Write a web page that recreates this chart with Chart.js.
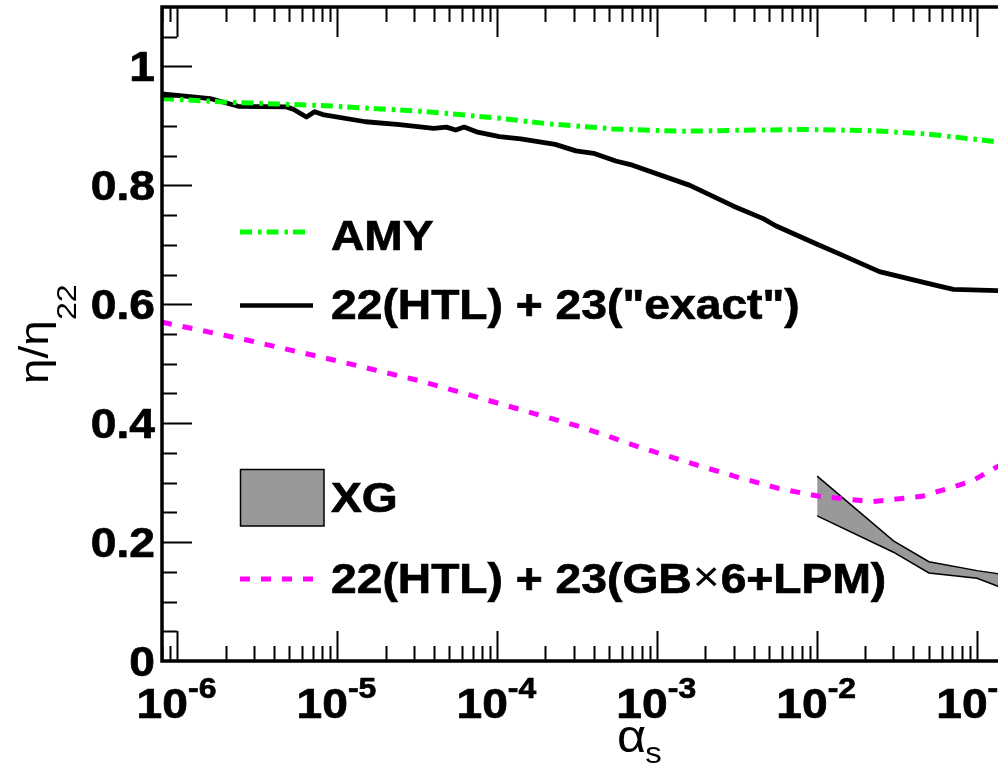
<!DOCTYPE html>
<html>
<head>
<meta charset="utf-8">
<title>eta/eta22 vs alpha_s</title>
<script src="https://cdn.jsdelivr.net/npm/chart.js"></script>
<style>
  html, body { margin: 0; padding: 0; background: #fff; overflow: hidden; }
  #wrap { width: 998px; height: 767px; overflow: hidden; }
</style>
</head>
<body>
<div id="wrap"><canvas id="myChart" width="1160" height="767"></canvas></div>
<script>
// values (x = alpha_s, y = eta/eta22)
var amyX = [8e-7, 2e-6, 8.5e-6, 3.6e-5, 1.03e-4, 2e-4, 5.3e-4, 1.4e-3, 4e-3, 8.5e-3, 2.2e-2, 4.6e-2, 9.4e-2, 0.134, 0.2];
var amyY = [0.946, 0.940, 0.934, 0.924, 0.913, 0.904, 0.895, 0.891, 0.893, 0.894, 0.892, 0.887, 0.878, 0.873, 0.865];

var exactX = [8e-7, 1.6e-6, 2.4e-6, 4.8e-6, 5.3e-6, 6.4e-6, 7.2e-6, 8.1e-6, 1.5e-5, 2.45e-5, 4e-5, 4.8e-5, 5.5e-5, 6.2e-5, 7.4e-5,
              1.03e-4, 1.4e-4, 2.3e-4, 3.1e-4, 4e-4, 5.5e-4, 7e-4, 1.6e-3, 3e-3, 4.6e-3, 5.5e-3, 1e-2, 1.4e-2, 2.45e-2, 5.3e-2, 7.1e-2, 0.134, 0.2];
var exactY = [0.954, 0.946, 0.933, 0.932, 0.928, 0.915, 0.924, 0.919, 0.907, 0.902, 0.896, 0.898, 0.893, 0.898, 0.890,
              0.882, 0.878, 0.869, 0.858, 0.854, 0.841, 0.834, 0.800, 0.765, 0.744, 0.732, 0.701, 0.684, 0.655, 0.633, 0.625, 0.623, 0.622];

var gbX = [8e-7, 2.8e-6, 1.03e-5, 3.3e-5, 1.03e-4, 3.3e-4, 7.7e-4, 1.85e-3, 3.3e-3, 5.8e-3, 1.03e-2, 2.2e-2, 4.55e-2, 9.35e-2, 0.134, 0.2];
var gbY = [0.570, 0.539, 0.504, 0.471, 0.433, 0.394, 0.360, 0.328, 0.308, 0.290, 0.277, 0.268, 0.277, 0.303, 0.327, 0.352];

var xgX = [0.01, 0.03, 0.05, 0.1, 0.2];
var xgLow = [0.244, 0.183, 0.148, 0.139, 0.108];
var xgHigh = [0.311, 0.202, 0.167, 0.152, 0.140];

var xMajor = [1e-6, 1e-5, 1e-4, 1e-3, 1e-2, 1e-1, 1];
var xExp = ['-6', '-5', '-4', '-3', '-2', '-1', '0'];
var yMajor = [0, 0.2, 0.4, 0.6, 0.8, 1];
var yLabels = ['0', '0.2', '0.4', '0.6', '0.8', '1'];

var SX = 1.1; // text in the picture is a bit wider than tall
var FONT = '"Liberation Sans", Arial, Helvetica, sans-serif';

function pts(xs, ys) {
    return xs.map(function (x, i) { return {x: x, y: ys[i]}; });
}

// draw text stretched horizontally, returns drawn width
function stext(ctx, str, x, y, font, align, heavy) {
    ctx.save();
    ctx.font = font;
    var w = ctx.measureText(str).width * SX;
    var x0 = align === 'right' ? x - w : (align === 'center' ? x - w / 2 : x);
    ctx.translate(x0, y);
    ctx.scale(SX, 1);
    ctx.textAlign = 'left';
    ctx.textBaseline = 'alphabetic';
    ctx.fillStyle = '#000';
    ctx.fillText(str, 0, 0);
    if (heavy) {
        ctx.strokeStyle = '#000';
        ctx.lineWidth = 0.7;
        ctx.strokeText(str, 0, 0);
    }
    ctx.restore();
    return w;
}

function sampleLine(ctx, x1, x2, y, color, width, dash) {
    ctx.save();
    ctx.strokeStyle = color;
    ctx.lineWidth = width;
    ctx.lineCap = 'butt';
    ctx.setLineDash(dash);
    ctx.beginPath();
    ctx.moveTo(x1, y);
    ctx.lineTo(x2, y);
    ctx.stroke();
    ctx.restore();
}

var framePlugin = {
    id: 'frame',
    afterDraw: function (chart) {
        var ctx = chart.ctx;
        var a = chart.chartArea;
        var xs = chart.scales.x;
        var ys = chart.scales.y;

        ctx.save();
        ctx.strokeStyle = '#000';
        ctx.lineWidth = 2;
        ctx.beginPath();
        // x ticks, inward on bottom and top
        for (var e = -7; e <= 0; e++) {
            for (var k = 1; k <= 9; k++) {
                var v = k * Math.pow(10, e);
                if (v < xs.min * 0.999 || v > xs.max * 1.001) continue;
                var len = k === 1 ? 30 : 15;
                var px = Math.round(xs.getPixelForValue(v)) + 0.5;
                ctx.moveTo(px, a.bottom); ctx.lineTo(px, a.bottom - len);
                ctx.moveTo(px, a.top); ctx.lineTo(px, a.top + len);
            }
        }
        // y ticks every 0.05, major every 0.2
        for (var i = 1; i < 22; i++) {
            var py = Math.round(ys.getPixelForValue(i * 0.05)) + 0.5;
            var l = i % 4 === 0 ? 30 : 15;
            ctx.moveTo(a.left, py); ctx.lineTo(a.left + l, py);
            ctx.moveTo(a.right, py); ctx.lineTo(a.right - l, py);
        }
        ctx.stroke();

        ctx.lineWidth = 3.5;
        ctx.strokeRect(a.left, a.top, a.right - a.left, a.bottom - a.top);
        ctx.restore();

        // tick labels
        var bold = 'bold 42px ' + FONT;
        var boldSup = 'bold 29px ' + FONT;
        yMajor.forEach(function (v, j) {
            stext(ctx, yLabels[j], 155, ys.getPixelForValue(v) + 15, bold, 'right', true);
        });
        xMajor.forEach(function (v, j) {
            var px = xs.getPixelForValue(v);
            ctx.font = bold;
            var w1 = ctx.measureText('10').width * SX;
            ctx.font = boldSup;
            var w2 = ctx.measureText(xExp[j]).width * SX;
            var x0 = px - (w1 + w2) / 2 - 1;
            stext(ctx, '10', x0, 718, bold, 'left', true);
            stext(ctx, xExp[j], x0 + w1, 698, boldSup, 'left', true);
        });

        // axis titles
        var wa = stext(ctx, '\u03b1', 617, 752, '46px ' + FONT, 'left');
        stext(ctx, 's', 616 + wa, 763, '30px ' + FONT, 'left');

        ctx.save();
        ctx.translate(48, 384);
        ctx.rotate(-Math.PI / 2);
        ctx.scale(1.15, 1);
        ctx.fillStyle = '#000';
        ctx.textBaseline = 'alphabetic';
        ctx.font = '40px ' + FONT;
        ctx.fillText('\u03b7/\u03b7', 0, 0);
        var we = ctx.measureText('\u03b7/\u03b7').width;
        ctx.font = '28px ' + FONT;
        ctx.fillText('22', we, 28);
        ctx.restore();

        // legend
        sampleLine(ctx, 240, 308, 232, '#00ff00', 5, [12, 6, 3.5, 5]);
        stext(ctx, 'AMY', 331, 250, bold, 'left', true);

        sampleLine(ctx, 240, 313, 305.5, '#000', 4.5, []);
        stext(ctx, '22(HTL) + 23("exact")', 331, 319, bold, 'left', true);

        ctx.save();
        ctx.fillStyle = '#999999';
        ctx.strokeStyle = '#000';
        ctx.lineWidth = 1.5;
        ctx.fillRect(240.5, 469.5, 83.5, 56.5);
        ctx.strokeRect(240.5, 469.5, 83.5, 56.5);
        ctx.restore();
        stext(ctx, 'XG', 331, 512, bold, 'left', true);

        sampleLine(ctx, 240, 316, 579, '#ff00ff', 5, [10, 11]);
        var x = 331;
        x += stext(ctx, '22(HTL) + 23(GB', x, 593, bold, 'left', true);
        x += stext(ctx, '\u00d7', x + 1, 591, '42px ' + FONT, 'left') + 2;
        stext(ctx, '6+LPM)', x, 593, bold, 'left', true);
    }
};

var ctx = document.getElementById('myChart').getContext('2d');
var chart = new Chart(ctx, {
    type: 'line',
    data: {
        datasets: [{
            label: 'AMY',
            data: pts(amyX, amyY),
            borderColor: '#00ff00',
            borderWidth: 5,
            borderDash: [12, 6, 3.5, 5],
            borderCapStyle: 'butt',
            pointRadius: 0,
            fill: false
        }, {
            label: '22(HTL) + 23("exact")',
            data: pts(exactX, exactY),
            borderColor: '#000000',
            borderWidth: 4.8,
            borderJoinStyle: 'round',
            pointRadius: 0,
            fill: false
        }, {
            label: '22(HTL) + 23(GB\u00d76+LPM)',
            data: pts(gbX, gbY),
            borderColor: '#ff00ff',
            borderWidth: 5,
            borderDash: [10, 11],
            borderCapStyle: 'butt',
            pointRadius: 0,
            fill: false
        }, {
            label: 'XG low',
            data: pts(xgX, xgLow),
            borderColor: '#000000',
            borderWidth: 1.5,
            pointRadius: 0,
            fill: false
        }, {
            label: 'XG',
            data: pts(xgX, xgHigh),
            borderColor: '#000000',
            backgroundColor: '#999999',
            borderWidth: 1.5,
            pointRadius: 0,
            fill: '-1'
        }]
    },
    options: {
        responsive: false,
        animation: false,
        devicePixelRatio: 1,
        layout: { padding: { left: 162, top: 7, right: 23, bottom: 106 } },
        plugins: { legend: { display: false }, tooltip: { enabled: false } },
        elements: { line: { tension: 0 } },
        scales: {
            x: { type: 'logarithmic', min: 8e-7, max: 1, display: false },
            y: { type: 'linear', min: 0, max: 1.1, display: false }
        }
    },
    plugins: [framePlugin]
});
</script>
</body>
</html>
